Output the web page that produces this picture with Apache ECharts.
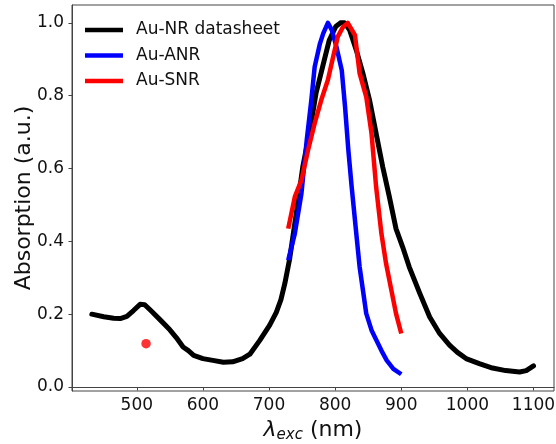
<!DOCTYPE html>
<html>
<head>
<meta charset="utf-8">
<script src="https://cdn.jsdelivr.net/npm/echarts@6/dist/echarts.min.js"></script>
<style>
html,body{margin:0;padding:0;background:#fff;}
#chart{width:556px;height:444px;}
</style>
</head>
<body>
<div id="chart"></div>
<script>
// ---- data ----
const seriesNames = ['Au-NR datasheet', 'Au-ANR', 'Au-SNR'];
const blackX = [432,450,465,475,485,495,505,512,520,535,550,560,570,578,586,600,615,631,645,660,671,686,701,711,718,724,731,741,751,761,771,781,791,801,808,814,822,832,842,852,862,872,882,892,902,912,928,943,958,973,985,998,1018,1038,1058,1079,1089,1100];
const blackY = [0.200,0.193,0.189,0.188,0.194,0.210,0.227,0.226,0.212,0.185,0.157,0.135,0.110,0.100,0.087,0.078,0.073,0.068,0.069,0.078,0.090,0.128,0.170,0.205,0.240,0.285,0.350,0.474,0.604,0.696,0.806,0.879,0.952,0.990,1.000,1.000,0.980,0.925,0.861,0.788,0.696,0.604,0.522,0.435,0.385,0.330,0.257,0.192,0.147,0.115,0.095,0.078,0.064,0.052,0.045,0.041,0.045,0.058];
const blueX = [729,739,749,757,764,769,777,782,789,795,802,810,815,820,825,832,837,842,847,855,862,870,878,888,900];
const blueY = [0.348,0.421,0.531,0.678,0.788,0.879,0.943,0.971,1.000,0.980,0.934,0.870,0.769,0.650,0.549,0.421,0.330,0.266,0.202,0.156,0.130,0.100,0.073,0.050,0.035];
const redX = [729,739,749,759,769,779,789,797,804,812,819,830,837,847,855,862,870,877,885,892,900];
const redY = [0.435,0.522,0.568,0.650,0.724,0.788,0.843,0.907,0.962,0.989,1.000,0.966,0.861,0.797,0.696,0.549,0.421,0.339,0.266,0.202,0.147];
const dotPoint = [[514, 0.119]];
const xTicks = [500,600,700,800,900,1000,1100];
const yTicks = [0.0,0.2,0.4,0.6,0.8,1.0];
const xRange = [402, 1131];
const yRange = [-0.011, 1.049];

const zip = (xs, ys) => xs.map((x, i) => [x, ys[i]]);
const FONT = 'DejaVu Sans';

const chart = echarts.init(document.getElementById('chart'), null, {renderer: 'canvas'});
chart.setOption({
  animation: false,
  backgroundColor: '#fff',
  grid: {left: 72, right: 2, top: 5, bottom: 53, containLabel: false, outerBoundsMode: 'none',
         show: true, borderColor: '#444', borderWidth: 1, backgroundColor: 'transparent'},
  legend: {
    data: seriesNames,
    orient: 'vertical',
    left: 80, top: 15,
    icon: 'rect',
    itemWidth: 38, itemHeight: 4.5,
    itemGap: 5.5,
    textStyle: {fontFamily: FONT, fontSize: 17, color: '#111', lineHeight: 20, padding: [0, 0, 0, 8]}
  },
  xAxis: {
    type: 'value', min: xRange[0], max: xRange[1],
    name: '{l|λ}{s|exc}{n| (nm)}',
    nameLocation: 'middle', nameGap: 26, nameMoveOverlap: false,
    nameTextStyle: {
      fontFamily: FONT, fontSize: 22, color: '#111',
      rich: {
        l: {fontFamily: FONT, fontSize: 22, fontStyle: 'italic', lineHeight: 26, color: '#111'},
        s: {fontFamily: FONT, fontSize: 15, fontStyle: 'italic', lineHeight: 26, verticalAlign: 'bottom', color: '#111'},
        n: {fontFamily: FONT, fontSize: 22, lineHeight: 26, color: '#111'}
      }
    },
    axisLine: {show: true, lineStyle: {color: '#444', width: 1}},
    axisTick: {show: true, length: 3.5, inside: false, customValues: xTicks, lineStyle: {color: '#444'}},
    axisLabel: {customValues: xTicks, fontFamily: FONT, fontSize: 17, color: '#111', margin: 6, formatter: v => String(v)},
    splitLine: {show: false}
  },
  yAxis: {
    type: 'value', min: yRange[0], max: yRange[1],
    name: 'Absorption (a.u.)',
    nameLocation: 'middle', nameGap: 37, nameRotate: 90, nameMoveOverlap: false,
    nameTextStyle: {fontFamily: FONT, fontSize: 22, color: '#111'},
    axisLine: {show: true, lineStyle: {color: '#444', width: 1}},
    axisTick: {show: true, length: 3.5, inside: false, customValues: yTicks, lineStyle: {color: '#444'}},
    axisLabel: {customValues: yTicks, fontFamily: FONT, fontSize: 17, color: '#111', margin: 8, formatter: v => v.toFixed(1)},
    splitLine: {show: false}
  },
  series: [
    {name: seriesNames[0], type: 'line', data: zip(blackX, blackY), showSymbol: false, symbol: 'none', color: '#000000',
     lineStyle: {color: '#000000', width: 5, join: 'round', cap: 'round'}, z: 2},
    {name: seriesNames[1], type: 'line', data: zip(blueX, blueY), showSymbol: false, symbol: 'none', color: '#0000ff',
     lineStyle: {color: '#0000ff', width: 4.5, join: 'round'}, z: 3},
    {name: seriesNames[2], type: 'line', data: zip(redX, redY), showSymbol: false, symbol: 'none', color: '#ff0000',
     lineStyle: {color: '#ff0000', width: 4.5, join: 'round'}, z: 4},
    {name: 'dot', type: 'scatter', data: dotPoint, symbol: 'circle', symbolSize: 9.5, itemStyle: {color: '#ff0000'}, z: 5}
  ]
});
</script>
</body>
</html>
